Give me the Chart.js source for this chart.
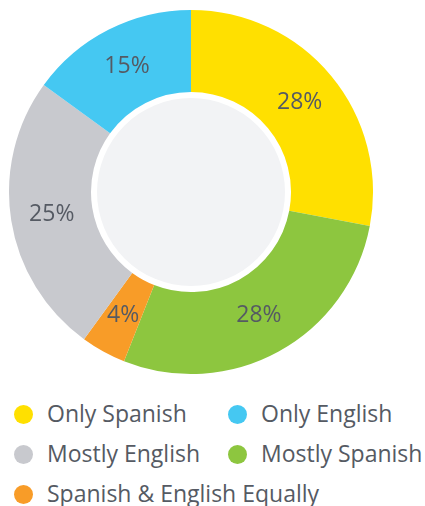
<!DOCTYPE html>
<html>
<head>
<meta charset="utf-8">
<script src="https://cdn.jsdelivr.net/npm/chart.js@4/dist/chart.umd.min.js"></script>
<style>
  body { margin: 0; background: #fff; width: 425px; height: 506px; overflow: hidden; font-family: "Open Sans", sans-serif; }
  #wrap { position: relative; width: 425px; height: 506px; }
  #myChart { position: absolute; left: 0; top: 0; }
  #legend { position: absolute; left: 0; top: 393px; width: 425px; }
  .row { height: 40px; position: relative; }
  .item { position: absolute; top: 0; height: 40px; line-height: 40px; font-size: 23px; color: #555a63; white-space: nowrap; }
  .dot { position: absolute; top: 12px; width: 19px; height: 19px; border-radius: 50%; }
  .item span.txt { position: absolute; top: 0; }
</style>
</head>
<body>
<div id="wrap">
  <canvas id="myChart" width="382" height="384"></canvas>
  <div id="legend"></div>
</div>
<script>
const categories = ['Only Spanish', 'Mostly Spanish', 'Spanish & English Equally', 'Mostly English', 'Only English']
const percents = [28, 28, 4, 25, 15]
const colors = ['#ffe000', '#8dc63f', '#f89c28', '#c8c9ce', '#45c8f2']
// legend order as in the picture
const legendOrder = ['Only Spanish', 'Only English', 'Mostly English', 'Mostly Spanish', 'Spanish & English Equally']

const holeRadius = 100

const centerPlugin = {
    id: 'centerPlugin',
    afterDatasetsDraw(chart) {
        const ctx = chart.ctx
        const meta = chart.getDatasetMeta(0)
        const arc = meta.data[0]
        ctx.save()
        ctx.beginPath()
        ctx.arc(arc.x, arc.y, arc.innerRadius - 6, 0, Math.PI * 2)
        ctx.fillStyle = '#f2f3f5'
        ctx.fill()
        ctx.font = '23px "Open Sans", sans-serif'
        ctx.fillStyle = '#555a63'
        ctx.textAlign = 'center'
        ctx.textBaseline = 'middle'
        meta.data.forEach(function(el, i) {
            const pos = el.tooltipPosition()
            ctx.fillText(percents[i] + '%', pos.x, pos.y)
        })
        ctx.restore()
    }
}

const ctx = document.getElementById('myChart').getContext('2d')
const myChart = new Chart(ctx, {
    type: 'doughnut',
    data: {
        labels: categories,
        datasets: [{
            data: percents,
            backgroundColor: colors,
            borderWidth: 0,
            hoverOffset: 0
        }]
    },
    options: {
        responsive: false,
        animation: false,
        cutout: holeRadius,
        layout: { padding: { left: 8, right: 8, top: 10, bottom: 10 } },
        plugins: {
            legend: { display: false },
            tooltip: { enabled: false }
        }
    },
    plugins: [centerPlugin]
})

// html legend, two columns
const legendEl = document.getElementById('legend')
let row
legendOrder.forEach(function(name, k) {
    if (k % 2 == 0) {
        row = document.createElement('div')
        row.className = 'row'
        legendEl.appendChild(row)
    }
    const i = categories.indexOf(name)
    const item = document.createElement('div')
    item.className = 'item'
    const left = k % 2 == 0 ? 14 : 228
    item.style.left = left + 'px'
    item.innerHTML = '<span class="dot" style="left:0;background:' + colors[i] + '"></span>' +
        '<span class="txt" style="left:33px">' + name.replace('&', '&amp;') + '</span>'
    row.appendChild(item)
})
</script>
</body>
</html>
